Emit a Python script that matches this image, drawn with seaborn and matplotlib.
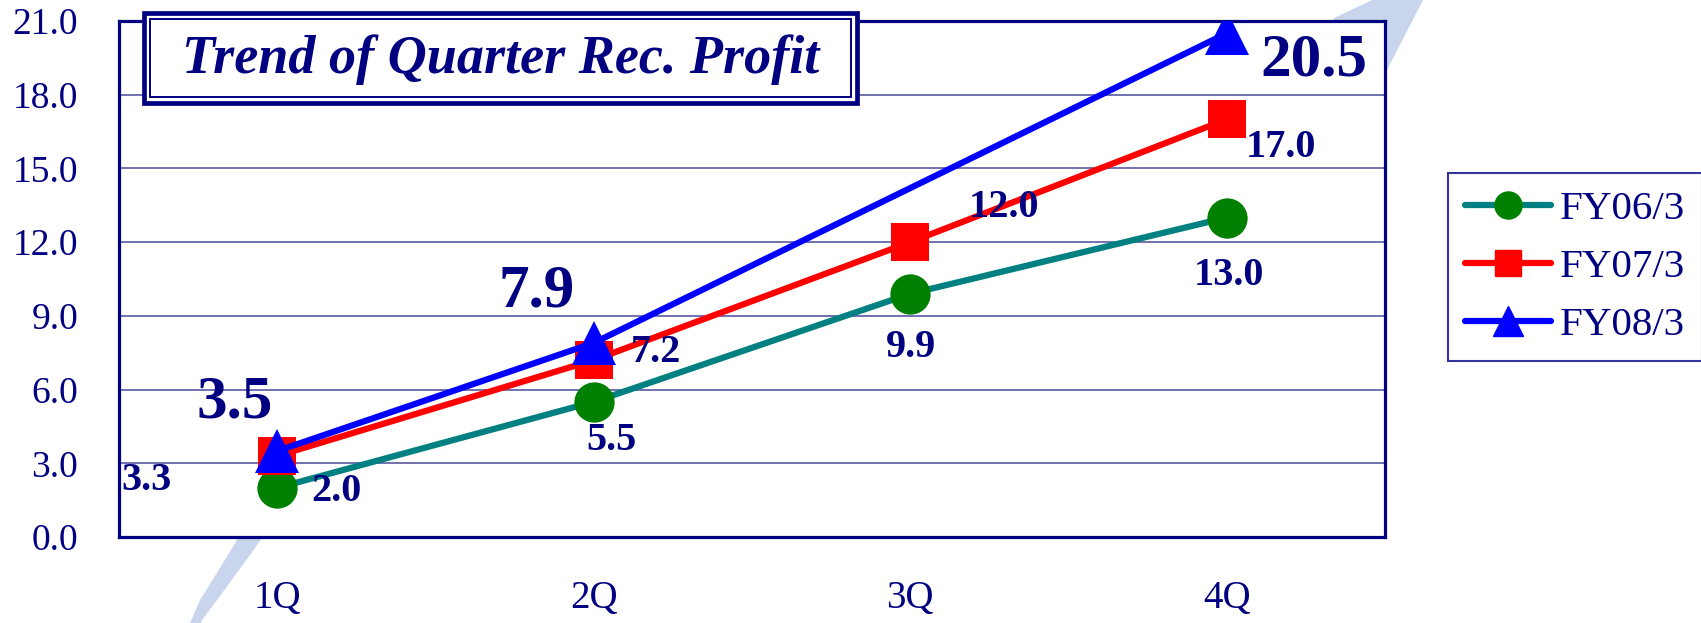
import numpy as np
import pandas as pd
import seaborn as sns
import matplotlib.pyplot as plt
from matplotlib.patches import Polygon, Rectangle
from matplotlib.lines import Line2D

quarters = ["1Q", "2Q", "3Q", "4Q"]
fy06 = [2.0, 5.5, 9.9, 13.0]
fy07 = [3.3, 7.2, 12.0, 17.0]
fy08 = [3.5, 7.9, np.nan, 20.5]   # no 3Q point in the original
series_names = ["FY06/3", "FY07/3", "FY08/3"]
yticks = [0, 3, 6, 9, 12, 15, 18, 21]

df = pd.DataFrame({"q": range(4), "FY06/3": fy06, "FY07/3": fy07, "FY08/3": fy08})

navy = "#000080"
grid_c = "#4a4a9a"
sns.set_style("white")
plt.rcParams["font.family"] = ["Liberation Serif", "DejaVu Serif"]

W, H = 1701, 623
def fx(px): return px / W
def fy(py): return 1 - py / H

fig = plt.figure(figsize=(W / 100, H / 100), dpi=100)
ax = fig.add_axes([fx(119), fy(537), fx(1385) - fx(119), fy(21) - fy(537)])

# pale arrow behind the plot area (only its ends show)
band = [(190, 623), (200, 600), (228, 555), (238, 538), (255, 510), (1330, 30),
        (1334, 18), (1372, 0), (1423, 0), (1387, 70), (1370, 75), (280, 510),
        (262, 538), (250, 555), (217, 600), (202, 620), (201, 623)]
fig.add_artist(Polygon([(fx(a), fy(b)) for a, b in band], closed=True,
                       transform=fig.transFigure, facecolor="#c9d5ec",
                       edgecolor="none", zorder=-1))

styles = {
    "FY06/3": dict(color="#008080", marker="o", markersize=29,
                   markerfacecolor="#008000", markeredgecolor="#008000"),
    "FY07/3": dict(color="#ff0000", marker="s", markersize=27),
    "FY08/3": dict(color="#0000ff", marker="^", markersize=32),
}
legend_msize = {"FY06/3": 19.5, "FY07/3": 18.5, "FY08/3": 22}
for name in series_names:
    d = df[["q", name]].dropna()
    sns.lineplot(data=d, x="q", y=name, ax=ax, linewidth=4.5,
                 markeredgewidth=0, zorder=3, **styles[name])

ax.set_xlim(-0.5, 3.5)
ax.set_ylim(0, 21)
ax.set_xticks(range(4), quarters)
ax.set_xticks([0.5, 1.5, 2.5], minor=True)
ax.tick_params(axis="x", which="major", length=0, pad=31, labelsize=28, labelcolor=navy)
ax.tick_params(axis="x", which="minor", direction="in", length=9, width=1.2, color=grid_c)
ax.set_yticks(yticks, [f"{v:.1f}" for v in yticks])
ax.tick_params(axis="y", direction="in", length=9, width=1.2, color=navy,
               pad=29.5, labelsize=27, labelcolor=navy)
ax.yaxis.grid(True, color=grid_c, lw=1.1)
ax.xaxis.grid(False)
for s in ax.spines.values():
    s.set_color(navy)
    s.set_linewidth(2.3)
ax.set_xlabel("")
ax.set_ylabel("")

# value labels: series, quarter, offset x/y in pixels, big font
label_specs = [
    ("FY06/3", 0, 59, -4, False),
    ("FY06/3", 1, 18, -39, False),
    ("FY06/3", 2, 1, -54, False),
    ("FY06/3", 3, 2, -58, False),
    ("FY07/3", 0, -131, -25, False),
    ("FY07/3", 1, 62, 8, False),
    ("FY07/3", 2, 94, 35, False),
    ("FY07/3", 3, 54, -28, False),
    ("FY08/3", 0, -43, 49, True),
    ("FY08/3", 1, -57, 51, True),
    ("FY08/3", 3, 87, -27, True),
]
for name, qi, dx, dy, big in label_specs:
    v = df.loc[qi, name]
    ax.annotate(f"{v:.1f}", (qi, v), xytext=(dx, dy), textcoords="offset pixels",
                ha="center", va="center", fontsize=44 if big else 29,
                fontweight="bold", color=navy, zorder=4)

# legend
handles = []
for n in series_names:
    st = dict(styles[n])
    st["markersize"] = legend_msize[n]
    handles.append(Line2D([], [], linewidth=4.5, solid_capstyle="round", **st))
leg = fig.legend(handles, series_names, loc="upper left",
                 bbox_to_anchor=(fx(1448), fy(173)), prop={"size": 29.5},
                 labelcolor=navy, fancybox=False, borderpad=0.42,
                 handlelength=2.1, handletextpad=0.2, labelspacing=0.5,
                 borderaxespad=0)
leg.get_frame().set_edgecolor(navy)
leg.get_frame().set_linewidth(1.5)

# title box with double border
fig.add_artist(Rectangle((fx(144), fy(103)), fx(857) - fx(144), fy(13) - fy(103),
                         transform=fig.transFigure, facecolor="white",
                         edgecolor=navy, lw=3.4, zorder=5))
fig.add_artist(Rectangle((fx(150), fy(97)), fx(851) - fx(150), fy(19) - fy(97),
                         transform=fig.transFigure, fill=False,
                         edgecolor=navy, lw=1.4, zorder=6))
fig.text(fx(501), fy(60), "Trend of Quarter Rec. Profit", ha="center", va="center",
         fontsize=39, fontweight="bold", fontstyle="italic", color=navy, zorder=7)

fig.savefig("out.png", dpi=100)
